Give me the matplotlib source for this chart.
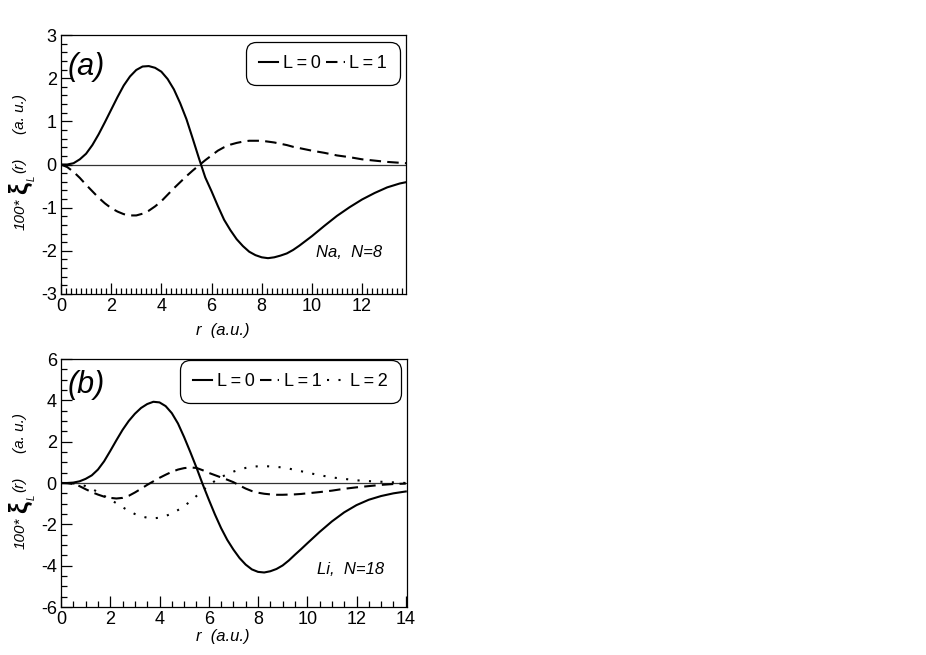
import matplotlib
matplotlib.use('Agg')
import matplotlib.pyplot as plt
from matplotlib.ticker import MultipleLocator

plt.rcParams['font.family'] = ['Liberation Sans', 'DejaVu Sans']
plt.rcParams['axes.unicode_minus'] = False

# panel (a): Na, N=8
r_a = [0, 0.25, 0.5, 0.75, 1, 1.25, 1.5, 1.75, 2, 2.25, 2.5, 2.75, 3, 3.25,
       3.5, 3.75, 4, 4.25, 4.5, 4.75, 5, 5.25, 5.5, 5.75, 6, 6.25, 6.5, 6.75,
       7, 7.25, 7.5, 7.75, 8, 8.25, 8.5, 8.75, 9, 9.25, 9.5, 9.75, 10,
       10.5, 11, 11.5, 12, 12.5, 13, 13.5, 13.75]
na_L0 = [0, 0.0, 0.03, 0.12, 0.25, 0.45, 0.7, 0.98, 1.27, 1.56, 1.83, 2.04,
         2.19, 2.27, 2.28, 2.24, 2.15, 1.98, 1.74, 1.42, 1.05, 0.6, 0.14,
         -0.3, -0.62, -0.96, -1.28, -1.52, -1.73, -1.89, -2.02, -2.1, -2.15,
         -2.17, -2.15, -2.11, -2.06, -1.98, -1.88, -1.77, -1.66,
         -1.42, -1.19, -0.99, -0.81, -0.66, -0.53, -0.44, -0.41]
na_L1 = [0, -0.06, -0.17, -0.31, -0.47, -0.62, -0.77, -0.9, -1.01, -1.09,
         -1.15, -1.18, -1.18, -1.14, -1.07, -0.97, -0.85, -0.7, -0.55, -0.41,
         -0.27, -0.14, -0.02, 0.1, 0.21, 0.32, 0.4, 0.46, 0.5, 0.53, 0.55,
         0.55, 0.55, 0.53, 0.51, 0.48, 0.45, 0.41, 0.38, 0.35, 0.32,
         0.27, 0.21, 0.17, 0.12, 0.09, 0.06, 0.04, 0.03]

# panel (b): Li, N=18
r_b = [0, 0.25, 0.5, 0.75, 1, 1.25, 1.5, 1.75, 2, 2.25, 2.5, 2.75, 3, 3.25,
       3.5, 3.75, 4, 4.25, 4.5, 4.75, 5, 5.25, 5.5, 5.75, 6, 6.25, 6.5, 6.75,
       7, 7.25, 7.5, 7.75, 8, 8.25, 8.5, 8.75, 9, 9.25, 9.5, 9.75, 10,
       10.5, 11, 11.5, 12, 12.5, 13, 13.5, 14]
li_L0 = [0, 0.0, 0.02, 0.08, 0.2, 0.37, 0.65, 1.05, 1.55, 2.07, 2.57, 3.0,
         3.35, 3.63, 3.82, 3.93, 3.9, 3.72, 3.38, 2.88, 2.22, 1.5, 0.75,
         -0.05, -0.8, -1.52, -2.18, -2.75, -3.22, -3.63, -3.95, -4.18, -4.3,
         -4.33, -4.27, -4.16, -3.99, -3.75, -3.47, -3.2, -2.92,
         -2.37, -1.86, -1.42, -1.07, -0.81, -0.63, -0.5, -0.41]
li_L1 = [0, -0.01, -0.05, -0.15, -0.3, -0.44, -0.56, -0.66, -0.72, -0.75,
         -0.72, -0.62, -0.46, -0.28, -0.09, 0.08, 0.25, 0.4, 0.54, 0.65, 0.72,
         0.75, 0.73, 0.62, 0.49, 0.38, 0.27, 0.16, 0.04, -0.12, -0.27, -0.39,
         -0.47, -0.52, -0.55, -0.57, -0.57, -0.56, -0.55, -0.53, -0.5,
         -0.44, -0.37, -0.28, -0.21, -0.15, -0.09, -0.05, -0.03]
li_L2 = [0, 0.0, -0.02, -0.07, -0.15, -0.28, -0.44, -0.62, -0.8, -0.98,
         -1.17, -1.35, -1.5, -1.61, -1.68, -1.71, -1.68, -1.6, -1.47, -1.31,
         -1.12, -0.89, -0.63, -0.37, -0.12, 0.1, 0.28, 0.43, 0.55, 0.65, 0.73,
         0.78, 0.81, 0.82, 0.8, 0.78, 0.75, 0.7, 0.63, 0.57, 0.5,
         0.38, 0.27, 0.2, 0.13, 0.09, 0.06, 0.03, 0.0]

W, H = 926, 655
fig = plt.figure(figsize=(W / 100, H / 100), dpi=100)
ax1 = fig.add_axes([61 / W, 1 - 294 / H, 345 / W, 259 / H])
ax2 = fig.add_axes([61 / W, 1 - 607 / H, 346 / W, 248 / H])


def style(ax, xmax, ylim, xminor, ymajor, yminor):
    ax.set_xlim(0, xmax)
    ax.set_ylim(*ylim)
    ax.xaxis.set_major_locator(MultipleLocator(2))
    ax.xaxis.set_minor_locator(MultipleLocator(xminor))
    ax.yaxis.set_major_locator(MultipleLocator(ymajor))
    ax.yaxis.set_minor_locator(MultipleLocator(yminor))
    ax.tick_params(which='both', direction='in', top=False, right=False,
                   labelsize=13, width=0.9)
    ax.tick_params(which='major', length=8, pad=3)
    ax.tick_params(which='minor', length=4)
    for s in ax.spines.values():
        s.set_linewidth(0.9)
    ax.axhline(0, color='#333333', lw=0.9, zorder=1)


def legend(ax, anchor, ncol):
    leg = ax.legend(loc='upper right', bbox_to_anchor=anchor, ncol=ncol,
                    fontsize=13, handlelength=1.05, handletextpad=0.25,
                    columnspacing=0.3, borderpad=0.72, borderaxespad=0,
                    fancybox=True, framealpha=1, edgecolor='k')
    fr = leg.get_frame()
    fr.set_linewidth(0.9)
    fr.set_boxstyle('round', pad=0, rounding_size=0.55)


def ylabel(yc):
    # yc: vertical centre of the axes in pixels
    kw = dict(rotation=90, ha='center', va='center', style='italic')
    fig.text(21 / W, 1 - (yc + 50) / H, '100*', fontsize=11, **kw)
    fig.text(20 / W, 1 - (yc + 24) / H, '\u03be', fontsize=19,
             weight='bold', rotation=90, ha='center', va='center')
    fig.text(32 / W, 1 - (yc + 14) / H, 'L', fontsize=7, **kw)
    fig.text(19 / W, 1 - (yc + 1) / H, '(r)', fontsize=11, **kw)
    fig.text(20 / W, 1 - (yc - 50) / H, '(a. u.)', fontsize=11, **kw)


dash = (5.5, 3)
dots = (1, 4.5)
sp = '\u2009'

ax1.plot(r_a, na_L0, color='k', lw=1.5, label=f'L{sp}={sp}0')
ax1.plot(r_a, na_L1, color='k', lw=1.5, dashes=dash, label=f'L{sp}={sp}1')
style(ax1, 13.75, (-3, 3), 0.2, 1, 0.2)
legend(ax1, (0.983, 0.973), 2)
ax1.text(0.02, 0.875, '(a)', transform=ax1.transAxes, fontsize=22,
         style='italic', va='center', ha='left')
ax1.text(0.74, 0.16, 'Na,  N=8', transform=ax1.transAxes, fontsize=12,
         style='italic', va='center', ha='left')

ax2.plot(r_b, li_L0, color='k', lw=1.5, label=f'L{sp}={sp}0')
ax2.plot(r_b, li_L1, color='k', lw=1.5, dashes=dash, label=f'L{sp}={sp}1')
ax2.plot(r_b, li_L2, color='k', lw=1.5, dashes=dots, label=f'L{sp}={sp}2')
style(ax2, 14.05, (-6, 6), 0.5, 2, 0.5)
legend(ax2, (0.983, 0.995), 3)
ax2.text(0.02, 0.895, '(b)', transform=ax2.transAxes, fontsize=22,
         style='italic', va='center', ha='left')
ax2.text(0.74, 0.15, 'Li,  N=18', transform=ax2.transAxes, fontsize=12,
         style='italic', va='center', ha='left')

for yc, yx in [(164.5, 331), (483, 636)]:
    ylabel(yc)
    fig.text(223 / W, 1 - yx / H, 'r  (a.u.)', fontsize=12, style='italic',
             ha='center', va='center')

fig.savefig('out.png', dpi=100)
